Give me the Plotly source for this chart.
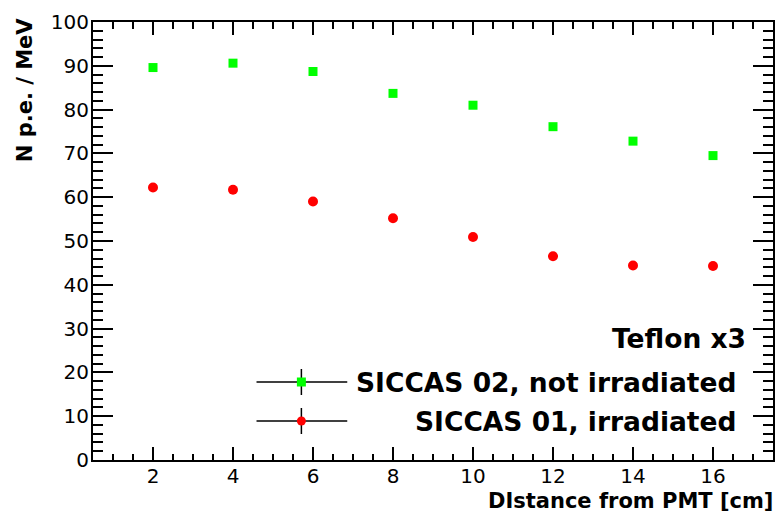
import plotly.graph_objects as go

# Light yield vs. distance from the PMT for two SICCAS crystals (Teflon x3 wrapping)
distance_cm = [2, 4, 6, 8, 10, 12, 14, 16]
npe_not_irradiated = [89.6, 90.6, 88.7, 83.7, 81.0, 76.1, 72.8, 69.5]
npe_irradiated = [62.2, 61.7, 59.0, 55.2, 50.9, 46.5, 44.4, 44.3]

label_not_irr = "SICCAS 02, not irradiated"
label_irr = "SICCAS 01, irradiated"
label_wrap = "Teflon x3"
x_title = "DIstance from PMT [cm]"
y_title = "N p.e. / MeV"

x_range = [0.5, 17.5]
y_range = [0, 100]

W, H = 777, 512
L, R, T, B = 93, 2, 22, 52
plot_w = W - L - R
plot_h = H - T - B

def px_x(px):
    return (px - L) / plot_w

def px_y(py):
    return (H - B - py) / plot_h

FONT = "DejaVu Sans"
GREEN = "#00ff00"
RED = "#ff0000"

fig = go.Figure()
fig.add_trace(go.Scatter(
    x=distance_cm, y=npe_not_irradiated, mode="markers", name=label_not_irr,
    marker=dict(symbol="square", size=9, color=GREEN, line=dict(width=0)),
))
fig.add_trace(go.Scatter(
    x=distance_cm, y=npe_irradiated, mode="markers", name=label_irr,
    marker=dict(symbol="circle", size=10, color=RED, line=dict(width=0)),
))

axis_common = dict(
    showgrid=False, zeroline=False, showline=True, linecolor="black", linewidth=2,
    mirror="allticks", ticks="inside", tickcolor="black", tickwidth=1.5,
    tickfont=dict(family=FONT, size=20, color="black"),
)
fig.update_xaxes(
    range=x_range, tick0=0, dtick=2, ticklen=13, ticklabelstandoff=-3,
    minor=dict(dtick=0.5, ticklen=6.5, ticks="inside", tickcolor="black", tickwidth=1.5),
    **axis_common,
)
fig.update_yaxes(
    range=y_range, tick0=0, dtick=10, ticklen=20, ticklabelstandoff=-2,
    minor=dict(dtick=2, ticklen=10, ticks="inside", tickcolor="black", tickwidth=1.5),
    **axis_common,
)

shapes = []
annotations = []

# Hand-drawn legend: horizontal + vertical error bar with marker
legend_rows = [
    (382, GREEN, "rect", label_not_irr),
    (421, RED, "circle", label_irr),
]
for row_y, color, kind, text in legend_rows:
    shapes.append(dict(type="line", xref="paper", yref="paper",
                       x0=px_x(257), x1=px_x(348), y0=px_y(row_y), y1=px_y(row_y),
                       line=dict(color="black", width=1.5)))
    shapes.append(dict(type="line", xref="paper", yref="paper",
                       x0=px_x(302), x1=px_x(302), y0=px_y(row_y - 13), y1=px_y(row_y + 13),
                       line=dict(color="black", width=1.5)))
    shapes.append(dict(type=kind, xref="paper", yref="paper",
                       xsizemode="pixel", ysizemode="pixel",
                       xanchor=px_x(302), yanchor=px_y(row_y),
                       x0=-4.5, x1=4.5, y0=-4.5, y1=4.5,
                       fillcolor=color, line=dict(width=0)))
    annotations.append(dict(text=text, xref="paper", yref="paper",
                            x=px_x(740), y=px_y(row_y), xanchor="right", yanchor="middle",
                            showarrow=False,
                            font=dict(family=FONT, size=26.5, color="black", weight="bold")))

annotations.append(dict(text=label_wrap, xref="paper", yref="paper",
                        x=px_x(750), y=px_y(338), xanchor="right", yanchor="middle",
                        showarrow=False,
                        font=dict(family=FONT, size=26.5, color="black", weight="bold")))

# Axis titles
annotations.append(dict(text=x_title, xref="paper", yref="paper",
                        x=px_x(777), y=px_y(501.5), xanchor="right", yanchor="middle",
                        showarrow=False,
                        font=dict(family=FONT, size=21, color="black", weight="bold")))
annotations.append(dict(text=y_title, xref="paper", yref="paper",
                        x=px_x(25), y=px_y(90), xanchor="center", yanchor="middle",
                        textangle=-90, showarrow=False,
                        font=dict(family=FONT, size=21, color="black", weight="bold")))

fig.update_layout(
    width=W, height=H,
    margin=dict(l=L, r=R, t=T, b=B),
    paper_bgcolor="white", plot_bgcolor="white",
    showlegend=False,
    shapes=shapes, annotations=annotations,
)

fig.write_html("out.html")
